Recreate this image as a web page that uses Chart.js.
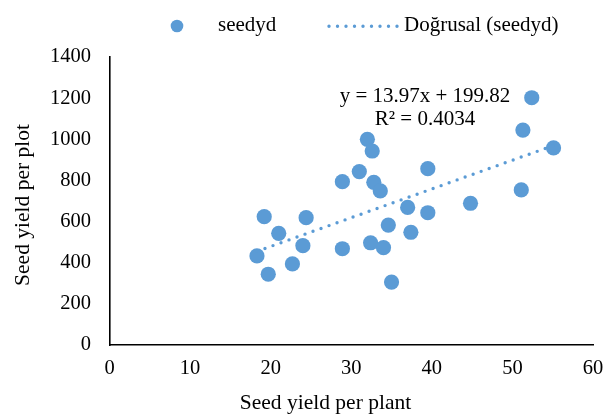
<!DOCTYPE html>
<html><head><meta charset="utf-8">
<script src="https://cdn.jsdelivr.net/npm/chart.js@4/dist/chart.umd.min.js"></script>
<style>html,body{margin:0;padding:0;background:#fff;} #wrap{width:606px;height:414px;}</style>
</head><body><div id="wrap"><canvas id="c" width="606" height="414"></canvas></div>
<script>
// ---- data ----
const seedYieldPerPlant = [18.3, 19.2, 19.7, 21.0, 22.7, 24.0, 24.4, 28.9, 28.9, 31.0, 32.0, 32.4, 32.6, 32.8, 33.6, 34.0, 34.6, 35.0, 37.0, 37.4, 39.5, 39.5, 44.8, 51.1, 51.3, 52.4, 55.1];
const seedYieldPerPlot  = [433, 624, 344, 543, 394, 483, 619, 794, 468, 843, 1000, 497, 943, 791, 749, 473, 583, 306, 669, 548, 643, 857, 689, 754, 1045, 1202, 958];
const trendX = [18.3, 55.1];
const trendY = [455.5, 969.6];
const xTicks = [0, 10, 20, 30, 40, 50, 60];
const yTicks = [0, 200, 400, 600, 800, 1000, 1200, 1400];
const seriesName = 'seedyd';
const trendName = 'Doğrusal (seedyd)';
const equationLines = ['y = 13.97x + 199.82', 'R² = 0.4034'];
const xTitle = 'Seed yield per plant';
const yTitle = 'Seed yield per plot';

const BLUE = '#5B9BD5';
const FONT = "'Liberation Serif', 'Times New Roman', serif";

const extrasPlugin = {
  id: 'extras',
  afterDraw(chart) {
    const ctx = chart.ctx;
    ctx.save();
    ctx.fillStyle = '#000';
    // legend
    ctx.font = '21px ' + FONT;
    ctx.textBaseline = 'alphabetic';
    ctx.textAlign = 'left';
    ctx.beginPath();
    ctx.arc(177, 26, 6.3, 0, Math.PI * 2);
    ctx.fillStyle = BLUE;
    ctx.fill();
    ctx.fillStyle = '#000';
    ctx.fillText(seriesName, 218, 30.5);
    ctx.strokeStyle = BLUE;
    ctx.lineWidth = 3.4;
    ctx.lineCap = 'round';
    ctx.setLineDash([0, 8.5]);
    ctx.beginPath();
    ctx.moveTo(329, 26.3);
    ctx.lineTo(398, 26.3);
    ctx.stroke();
    ctx.setLineDash([]);
    ctx.fillText(trendName, 404, 30.5);
    // trendline label
    ctx.textAlign = 'center';
    ctx.fillText(equationLines[0], 425, 101.5);
    ctx.fillText(equationLines[1], 425, 125);
    // axis titles
    ctx.font = '21.5px ' + FONT;
    ctx.fillText(xTitle, 325.5, 408.5);
    ctx.translate(29, 205);
    ctx.rotate(-Math.PI / 2);
    ctx.fillText(yTitle, 0, 0);
    ctx.restore();
  }
};

new Chart(document.getElementById('c'), {
  type: 'scatter',
  data: {
    datasets: [
      {
        label: trendName,
        data: trendX.map((x, i) => ({x, y: trendY[i]})),
        showLine: true,
        borderColor: BLUE,
        borderWidth: 3.4,
        borderCapStyle: 'round',
        borderDash: [0, 8.5],
        pointRadius: 0,
        fill: false,
        order: 0
      },
      {
        label: seriesName,
        data: seedYieldPerPlant.map((x, i) => ({x, y: seedYieldPerPlot[i]})),
        backgroundColor: BLUE,
        borderWidth: 0,
        pointRadius: 7.6,
        pointHoverRadius: 7.6,
        order: 1
      }
    ]
  },
  options: {
    responsive: false,
    animation: false,
    devicePixelRatio: 1,
    layout: { padding: { top: 57, right: 13, bottom: 0, left: 0 } },
    plugins: { legend: { display: false }, tooltip: { enabled: false } },
    scales: {
      x: {
        type: 'linear',
        min: 0, max: 60,
        afterBuildTicks(scale) { scale.ticks = xTicks.map(v => ({value: v})); },
        afterFit(scale) { scale.height = 69; },
        grid: { display: false, drawTicks: true, tickLength: 11 },
        border: { display: true, color: '#000', width: 1.6 },
        ticks: { color: '#000', padding: 0, font: { family: FONT, size: 20.5 }, callback: v => String(v) },
        title: { display: false, text: xTitle }
      },
      y: {
        type: 'linear',
        min: 0, max: 1400,
        afterBuildTicks(scale) { scale.ticks = yTicks.map(v => ({value: v})); },
        afterFit(scale) { scale.width = 109.5; },
        grid: { display: false, drawTicks: false },
        border: { display: true, color: '#000', width: 1.6 },
        ticks: { color: '#000', padding: 18.5, font: { family: FONT, size: 20.5 }, callback: v => String(v) },
        title: { display: false, text: yTitle }
      }
    }
  },
  plugins: [extrasPlugin]
});
</script>
</body></html>
